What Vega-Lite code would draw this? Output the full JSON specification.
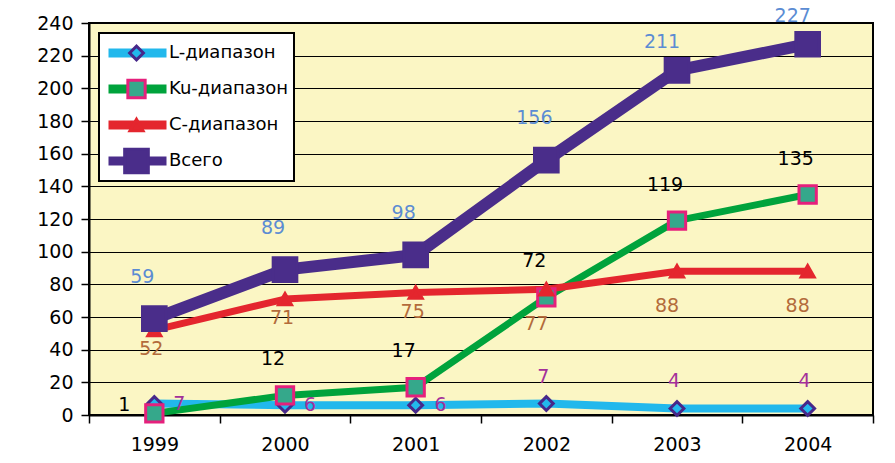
{
  "$schema": "https://vega.github.io/schema/vega-lite/v6.json",
  "width": 784,
  "height": 392,
  "autosize": {"type": "none"},
  "padding": {"left": 89, "top": 23, "right": 22, "bottom": 48},
  "background": "white",
  "config": {
    "font": "DejaVu Sans",
    "view": {"fill": "#fbf6c4", "stroke": "black", "strokeWidth": 2},
    "legend": {"strokeWidth": 2}
  },
  "data": {
    "values": [
      {"series": "L-диапазон", "year": "1999", "value": 7},
      {"series": "L-диапазон", "year": "2000", "value": 6},
      {"series": "L-диапазон", "year": "2001", "value": 6},
      {"series": "L-диапазон", "year": "2002", "value": 7},
      {"series": "L-диапазон", "year": "2003", "value": 4},
      {"series": "L-диапазон", "year": "2004", "value": 4},
      {"series": "Ku-диапазон", "year": "1999", "value": 1},
      {"series": "Ku-диапазон", "year": "2000", "value": 12},
      {"series": "Ku-диапазон", "year": "2001", "value": 17},
      {"series": "Ku-диапазон", "year": "2002", "value": 72},
      {"series": "Ku-диапазон", "year": "2003", "value": 119},
      {"series": "Ku-диапазон", "year": "2004", "value": 135},
      {"series": "C-диапазон", "year": "1999", "value": 52},
      {"series": "C-диапазон", "year": "2000", "value": 71},
      {"series": "C-диапазон", "year": "2001", "value": 75},
      {"series": "C-диапазон", "year": "2002", "value": 77},
      {"series": "C-диапазон", "year": "2003", "value": 88},
      {"series": "C-диапазон", "year": "2004", "value": 88},
      {"series": "Всего", "year": "1999", "value": 59},
      {"series": "Всего", "year": "2000", "value": 89},
      {"series": "Всего", "year": "2001", "value": 98},
      {"series": "Всего", "year": "2002", "value": 156},
      {"series": "Всего", "year": "2003", "value": 211},
      {"series": "Всего", "year": "2004", "value": 227}
    ]
  },
  "encoding": {
    "x": {
      "field": "year",
      "type": "ordinal",
      "bandPosition": 0.5,
      "scale": {"type": "band", "paddingInner": 0, "paddingOuter": 0},
      "axis": {
        "title": null,
        "labelAngle": 0,
        "tickBand": "extent",
        "labelFontSize": 19,
        "labelColor": "black",
        "tickColor": "black",
        "tickSize": 8,
        "tickWidth": 1.5,
        "domainColor": "black",
        "domainWidth": 2,
        "labelPadding": 12,
        "grid": false
      }
    },
    "y": {
      "field": "value",
      "type": "quantitative",
      "scale": {"domain": [0, 240], "nice": false},
      "axis": {
        "title": null,
        "values": [0, 20, 40, 60, 80, 100, 120, 140, 160, 180, 200, 220, 240],
        "labelFontSize": 19,
        "labelColor": "black",
        "labelPadding": 8,
        "tickColor": "black",
        "tickSize": 8,
        "tickWidth": 1.5,
        "domainColor": "black",
        "domainWidth": 2,
        "gridColor": "black",
        "gridWidth": 1,
        "gridOpacity": 1
      }
    }
  },
  "layer": [
    {
      "mark": {"type": "line", "strokeJoin": "round", "strokeCap": "round"},
      "encoding": {
        "color": {
          "field": "series",
          "type": "nominal",
          "sort": ["L-диапазон", "Ku-диапазон", "C-диапазон", "Всего"],
          "scale": {"range": ["#22b8ec", "#00a33c", "#e4262e", "#4a2d8a"]},
          "legend": {
            "title": null,
            "orient": "top-left",
            "offset": 10,
            "symbolType": "stroke",
            "symbolSize": 3364,
            "symbolStrokeWidth": 9,
            "labelFontSize": 18,
            "labelColor": "black",
            "fillColor": "white",
            "strokeColor": "black",
            "padding": 5,
            "clipHeight": 30,
            "rowPadding": 6,
            "labelOffset": -2,
            "zindex": 1
          }
        },
        "strokeWidth": {
          "field": "series",
          "type": "nominal",
          "scale": {"type": "ordinal", "domain": ["Всего", "C-диапазон", "Ku-диапазон", "L-диапазон"], "range": [12, 7, 7, 8]},
          "legend": null
        }
      }
    },
    {
      "mark": {"type": "point", "filled": true, "opacity": 1, "strokeWidth": 3},
      "encoding": {
        "shape": {
          "field": "series",
          "type": "nominal",
          "scale": {"domain": ["L-диапазон", "Ku-диапазон", "C-диапазон", "Всего"], "range": ["diamond", "square", "triangle-up", "square"]},
          "legend": {"title": null, "orient": "none", "legendX": 10, "legendY": 10, "padding": 5, "clipHeight": 30, "rowPadding": 6, "symbolOffset": 19, "symbolStrokeWidth": 3, "labelFontSize": 18, "labelExpr": "''", "zindex": 2}
        },
        "fill": {
          "field": "series",
          "type": "nominal",
          "scale": {"domain": ["L-диапазон", "Ku-диапазон", "C-диапазон", "Всего"], "range": ["#22b8ec", "#35a88b", "#e4262e", "#4a2d8a"]},
          "legend": {"title": null, "orient": "none", "legendX": 10, "legendY": 10, "padding": 5, "clipHeight": 30, "rowPadding": 6, "symbolOffset": 19, "symbolStrokeWidth": 3, "labelFontSize": 18, "labelExpr": "''", "zindex": 2}
        },
        "stroke": {
          "field": "series",
          "type": "nominal",
          "scale": {"domain": ["L-диапазон", "Ku-диапазон", "C-диапазон", "Всего"], "range": ["#47288a", "#e5207c", "#e4262e", "#4a2d8a"]},
          "legend": {"title": null, "orient": "none", "legendX": 10, "legendY": 10, "padding": 5, "clipHeight": 30, "rowPadding": 6, "symbolOffset": 19, "symbolStrokeWidth": 3, "labelFontSize": 18, "labelExpr": "''", "zindex": 2}
        },
        "size": {
          "field": "series",
          "type": "nominal",
          "scale": {"type": "ordinal", "domain": ["L-диапазон", "Ku-диапазон", "C-диапазон", "Всего"], "range": [190, 300, 170, 560]},
          "legend": {"title": null, "orient": "none", "legendX": 10, "legendY": 10, "padding": 5, "clipHeight": 30, "rowPadding": 6, "symbolOffset": 19, "symbolStrokeWidth": 3, "labelFontSize": 18, "labelExpr": "''", "zindex": 2}
        }
      }
    },
    {
      "transform": [{"filter": "datum.series == 'Всего' && datum.year <= '2002'"}],
      "mark": {"type": "text", "fontSize": 19, "color": "#5b8cd3", "dx": -12, "dy": -42},
      "encoding": {"text": {"field": "value", "type": "quantitative"}}
    },
    {
      "transform": [{"filter": "datum.series == 'Всего' && datum.year > '2002'"}],
      "mark": {"type": "text", "fontSize": 19, "color": "#5b8cd3", "dx": -15, "dy": -28},
      "encoding": {"text": {"field": "value", "type": "quantitative"}}
    },
    {
      "transform": [{"filter": "datum.series == 'Ku-диапазон' && datum.year != '1999'"}],
      "mark": {"type": "text", "fontSize": 19, "color": "black", "dx": -12, "dy": -36},
      "encoding": {"text": {"field": "value", "type": "quantitative"}}
    },
    {
      "transform": [{"filter": "datum.series == 'Ku-диапазон' && datum.year == '1999'"}],
      "mark": {"type": "text", "fontSize": 19, "color": "black", "dx": -30, "dy": -8},
      "encoding": {"text": {"field": "value", "type": "quantitative"}}
    },
    {
      "transform": [{"filter": "datum.series == 'C-диапазон' && datum.year <= '2001'"}],
      "mark": {"type": "text", "fontSize": 19, "color": "#b36b3b", "dx": -3, "dy": 19},
      "encoding": {"text": {"field": "value", "type": "quantitative"}}
    },
    {
      "transform": [{"filter": "datum.series == 'C-диапазон' && datum.year > '2001'"}],
      "mark": {"type": "text", "fontSize": 19, "color": "#b36b3b", "dx": -10, "dy": 35},
      "encoding": {"text": {"field": "value", "type": "quantitative"}}
    },
    {
      "transform": [{"filter": "datum.series == 'L-диапазон' && datum.year <= '2001'"}],
      "mark": {"type": "text", "fontSize": 19, "color": "#a3309a", "dx": 25, "dy": 0},
      "encoding": {"text": {"field": "value", "type": "quantitative"}}
    },
    {
      "transform": [{"filter": "datum.series == 'L-диапазон' && datum.year > '2001'"}],
      "mark": {"type": "text", "fontSize": 19, "color": "#a3309a", "dx": -3, "dy": -27},
      "encoding": {"text": {"field": "value", "type": "quantitative"}}
    }
  ]
}
